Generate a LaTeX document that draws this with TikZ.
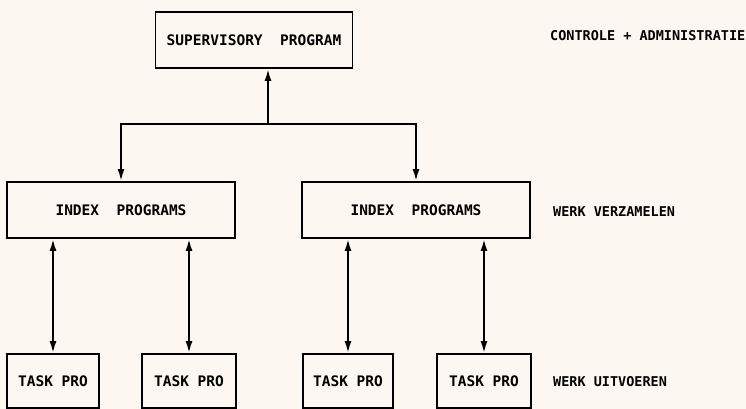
\documentclass[tikz,border=0pt]{standalone}
\usepackage{fontspec}
\setmonofont{DejaVu Sans Mono}
\usetikzlibrary{arrows.meta,positioning}
\definecolor{paper}{HTML}{FCF8F1}

\begin{document}
\begin{tikzpicture}[x=1pt,y=-1pt,
    box/.style={draw,line width=1.8pt,inner sep=0pt,minimum height=56pt,
      font=\ttfamily\bfseries\fontsize{14.5}{15}\selectfont},
    taskbox/.style={box,minimum height=54pt},
    note/.style={anchor=west,inner sep=0pt,font=\ttfamily\bfseries\fontsize{13.5}{14}\selectfont},
    link/.style={line width=2pt,arrows={-Latex[length=12pt,width=7pt]}},
    twoway/.style={line width=2pt,arrows={Latex[length=12pt,width=7pt]-Latex[length=12pt,width=7pt]}}]
     \fill[paper] (0,0) rectangle (746,409);
     \useasboundingbox (0,0) rectangle (746,409);
     % boxes
     \node[box,minimum width=197pt] (sup) at (254,40) {SUPERVISORY~~PROGRAM};
     \node[box,minimum width=228pt] (idx1) at (121,210) {INDEX~~PROGRAMS};
     \node[box,minimum width=228pt] (idx2) at (416,210) {INDEX~~PROGRAMS};
     \node[taskbox,minimum width=92pt] (t1) at (53,381) {TASK~PRO};
     \node[taskbox,minimum width=94pt] (t2) at (189,381) {TASK~PRO};
     \node[taskbox,minimum width=90pt] (t3) at (348,381) {TASK~PRO};
     \node[taskbox,minimum width=94pt] (t4) at (484,381) {TASK~PRO};
     % side notes
     \node[note] (n1) at (550,36) {CONTROLE + ADMINISTRATIE};
     \node[note] (n2) at (553,212) {WERK VERZAMELEN};
     \node[note] (n3) at (553,382) {WERK UITVOEREN};
     \coordinate (split) at (268,124);
     \draw[link] (split) -- (split |- sup.south);
     \draw[link] (split) -| (idx1.north);
     \draw[link] (split) -| (idx2.north);
     \draw[twoway] (t1.north |- idx1.south) -- (t1.north);
     \draw[twoway] (t2.north |- idx1.south) -- (t2.north);
     \draw[twoway] (t3.north |- idx2.south) -- (t3.north);
     \draw[twoway] (t4.north |- idx2.south) -- (t4.north);
\end{tikzpicture}
\end{document}
